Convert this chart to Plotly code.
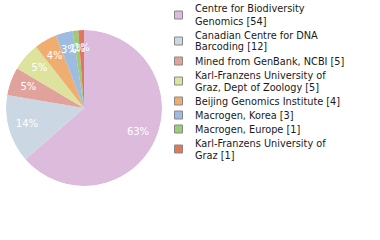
import plotly.graph_objects as go

labels = ["Centre for Biodiversity<br>Genomics [54]",
          "Canadian Centre for DNA<br>Barcoding [12]",
          "Mined from GenBank, NCBI [5]",
          "Karl-Franzens University of<br>Graz, Dept of Zoology [5]",
          "Beijing Genomics Institute [4]",
          "Macrogen, Korea [3]",
          "Macrogen, Europe [1]",
          "Karl-Franzens University of<br>Graz [1]"]
values = [54, 12, 5, 5, 4, 3, 1, 1]
colors = ["#dcbbdd", "#cbd7e3", "#e0a29b", "#dde39c", "#f0ad70",
          "#9dbce0", "#9ccb79", "#e0775c"]

total = sum(values)
pct_text = [f"{int(v * 100 / total)}%" for v in values]
widths = [v / total * 360 for v in values]
mids, acc = [], 0.0
for w in widths:
    mids.append(acc + w / 2)
    acc += w

W, H = 380, 240

fig = go.Figure()
fig.add_trace(go.Barpolar(
    r=[1] * len(values), theta=mids, width=widths,
    marker=dict(color=colors, line=dict(width=0)),
    hoverinfo="skip", showlegend=False,
))
fig.add_trace(go.Scatterpolar(
    r=[0.76] * len(values), theta=mids, mode="text", text=pct_text,
    textfont=dict(color="white", size=10, family="DejaVu Sans"),
    textposition="middle center", hoverinfo="skip", showlegend=False,
))

# legend drawn as squares + text
shapes, annots = [], []
y = 9.0
line_h = 12.0
item_gap = 14.0
for lab, col in zip(labels, colors):
    lines = lab.split("<br>")
    ys = [y + i * line_h for i in range(len(lines))]
    yc = (ys[0] + ys[-1]) / 2
    shapes.append(dict(type="rect", xref="paper", yref="paper",
                       x0=174.5/W, x1=182.5/W, y0=1-(yc-4)/H, y1=1-(yc+4)/H,
                       fillcolor=col, line=dict(color="#888", width=1)))
    for ln, yy in zip(lines, ys):
        annots.append(dict(text=ln, xref="paper", yref="paper",
                           x=193/W, y=1-yy/H, xanchor="left", yanchor="middle",
                           showarrow=False,
                           font=dict(family="DejaVu Sans", size=9.75, color="#1a1a1a")))
    y = ys[-1] + item_gap

fig.update_layout(
    width=W, height=H, margin=dict(l=0, r=0, t=0, b=0),
    paper_bgcolor="white", plot_bgcolor="white",
    showlegend=False, shapes=shapes, annotations=annots,
    polar=dict(domain=dict(x=[6/W, 162/W], y=[1-186/H, 1-30/H]),
               bgcolor="rgba(0,0,0,0)", bargap=0,
               angularaxis=dict(rotation=90, direction="clockwise", visible=False),
               radialaxis=dict(range=[0, 1], visible=False)),
)
fig.write_html("out.html")
